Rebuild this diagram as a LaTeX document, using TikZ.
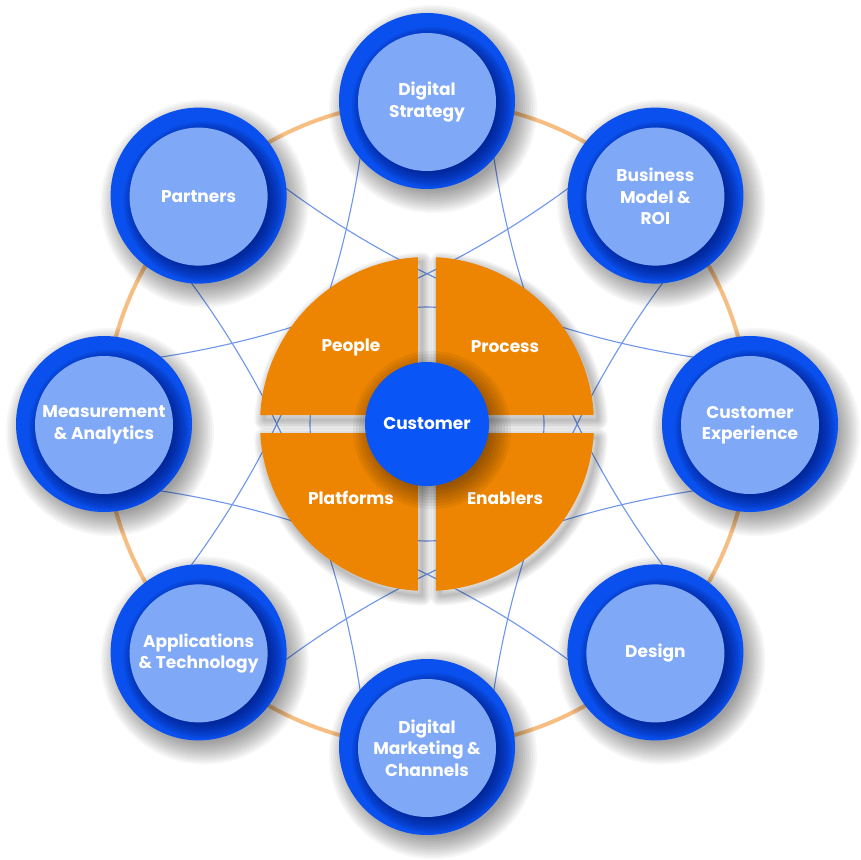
\documentclass[tikz,border=0pt]{standalone}
\usepackage{fontspec}
\setmainfont{Poppins}
\usetikzlibrary{calc}
\definecolor{ringblue}{HTML}{0A50EE}
\definecolor{lightblue}{HTML}{7FA8F7}
\definecolor{coreorange}{HTML}{ED8503}
\definecolor{custblue}{HTML}{0A55F5}
\definecolor{paleorange}{HTML}{F6BE82}
\definecolor{lineblue}{HTML}{6E96EB}
\definecolor{navy}{HTML}{001470}
\tikzset{
  labeltext/.style={text=white, font=\bfseries\fontsize{17}{21.5}\selectfont, align=center},
  innerdisc/.style={circle, fill=lightblue, minimum size=138pt, inner sep=0pt, labeltext},
  custdisc/.style={circle, fill=custblue, minimum size=124pt, inner sep=0pt, labeltext},
  thinline/.style={lineblue, line width=1.1pt},
}
\begin{document}
\begin{tikzpicture}[x=1pt,y=1pt]
\useasboundingbox[fill=white] (-427,-436) rectangle (433,424);
% outer pale ring
\draw[paleorange, line width=4pt] (0,0) circle[radius=323pt];
% interlacing arcs
\foreach \k in {0,...,7}{
  \pgfmathsetmacro{\ph}{22.5+45*\k}
  \pgfmathsetmacro{\sa}{\ph+162.3}
  \pgfmathsetmacro{\ea}{\ph+197.7}
  \coordinate (arcstart\k) at ($(\ph:1060pt)+(\sa:923pt)$);
  \draw[thinline] (arcstart\k) arc[start angle=\sa, end angle=\ea, radius=923pt];
}
\coordinate (core) at (0,0);
\draw[thinline] (core) circle[radius=117pt];
% quadrant shadows
\begin{scope}[shift={(4pt,-5pt)}]
\foreach \sx/\sy in {1/1,-1/1,1/-1,-1/-1}{
  \begin{scope}[xscale=\sx,yscale=\sy]
    \foreach \w in {2,5,8,11,14,17,20}{
      \draw[black, opacity=0.04, line width=\w pt, line join=round]
        (9,9) -- (86.91:167pt) arc[start angle=86.91, end angle=3.09, radius=167pt] -- cycle;
    }
  \end{scope}
}
\end{scope}
% quadrants
\foreach \sx/\sy in {1/1,-1/1,1/-1,-1/-1}{
  \begin{scope}[xscale=\sx,yscale=\sy]
    \fill[coreorange] (9,9) -- (86.91:167pt) arc[start angle=86.91, end angle=3.09, radius=167pt] -- cycle;
  \end{scope}
}
\node[labeltext] (people) at (-76,77) {People};
\node[labeltext] (process) at (78,77) {Process};
\node[labeltext] (platforms) at (-76,-74) {Platforms};
\node[labeltext] (enablers) at (78,-74) {Enablers};
% customer shadow and disc
\foreach \r in {58,61,...,79}{
  \fill[black, opacity=0.05] (5,-6) circle[radius=\r pt];
}
\node[custdisc] (customer) at (core) {Customer};
% outer nodes
\foreach \a/\nm/\txt in {90/ds/{Digital\\Strategy},45/bm/{Business\\Model \&\\ROI},0/cx/{Customer\\Experience},-45/de/{Design},-90/dm/{Digital\\Marketing \&\\Channels},-135/at/{Applications\\\& Technology},180/ma/{Measurement\\\& Analytics},135/pa/{Partners}}{
  \coordinate (c\nm) at (\a:323pt);
  \foreach \r in {82,84,...,104}{
    \fill[black, opacity=0.035] ($(c\nm)+(6pt,-8pt)$) circle[radius=\r pt];
  }
  \fill[ringblue] (c\nm) circle[radius=88pt];
  \begin{scope}
    \clip (c\nm) circle[radius=88pt];
    \foreach \r in {64,66,...,80}{
      \fill[navy, opacity=0.11] ($(c\nm)+(5pt,-6pt)$) circle[radius=\r pt];
    }
  \end{scope}
  \node[innerdisc] (n\nm) at ($(c\nm)+(0,-1pt)$) {\txt};
}
\end{tikzpicture}
\end{document}
